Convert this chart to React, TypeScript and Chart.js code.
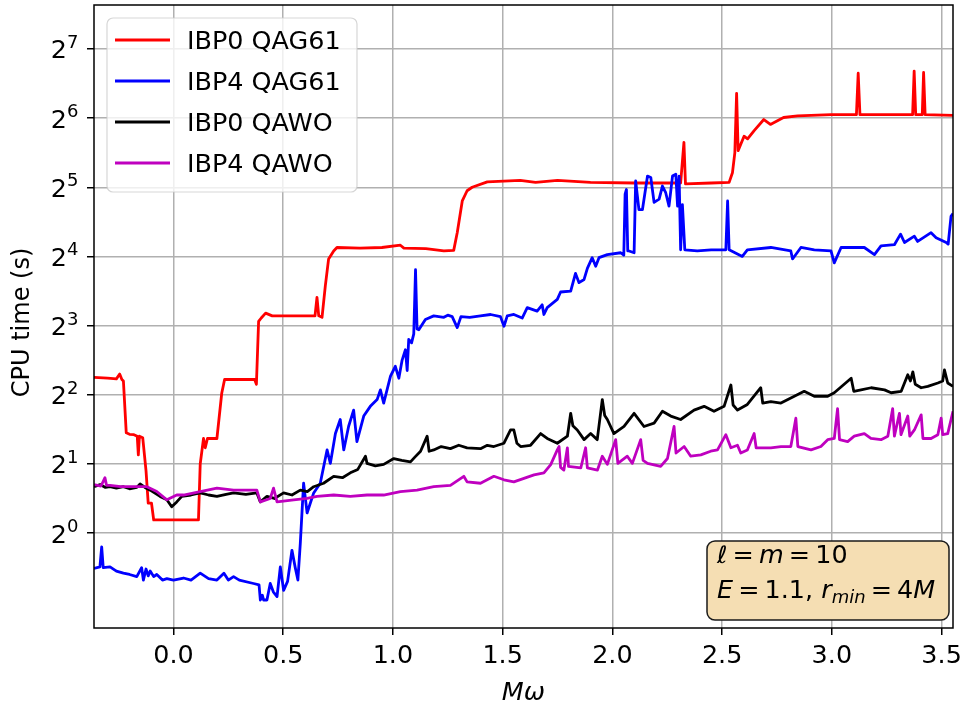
import React, { useEffect, useRef } from 'react';
import { Chart, registerables } from 'chart.js';

Chart.register(...registerables);

// ---------------- data ----------------
const xTickValues = [0, 0.5, 1, 1.5, 2, 2.5, 3, 3.5];
const xTickLabels = ['0.0', '0.5', '1.0', '1.5', '2.0', '2.5', '3.0', '3.5'];
const yTickValues = [1, 2, 4, 8, 16, 32, 64, 128];
const yTickExps = ['0', '1', '2', '3', '4', '5', '6', '7'];

const seriesNames = ['IBP0 QAG61', 'IBP4 QAG61', 'IBP0 QAWO', 'IBP4 QAWO'];
const seriesColors = ['#ff0000', '#0000ff', '#000000', '#bf00bf'];

const redX = [-0.362,-0.30,-0.26,-0.245,-0.235,-0.228,-0.215,-0.20,-0.18,-0.165,-0.16,-0.155,-0.14,-0.125,-0.115,-0.10,-0.09,0.0,0.114,0.122,0.137,0.145,0.155,0.198,0.22,0.233,0.30,0.37,0.378,0.388,0.40,0.42,0.45,0.55,0.645,0.654,0.662,0.677,0.692,0.707,0.73,0.745,0.85,0.95,1.034,1.05,1.15,1.232,1.277,1.293,1.316,1.338,1.361,1.43,1.58,1.65,1.75,1.9,2.1,2.311,2.326,2.333,2.45,2.532,2.547,2.558,2.566,2.573,2.60,2.616,2.646,2.69,2.72,2.78,2.844,2.996,3.112,3.12,3.128,3.368,3.375,3.382,3.412,3.418,3.425,3.552];
const redY = [4.76,4.72,4.69,4.92,4.66,4.59,2.73,2.69,2.68,2.64,2.19,2.64,2.60,1.87,1.35,1.35,1.14,1.14,1.14,2.00,2.58,2.35,2.58,2.58,4.06,4.66,4.66,4.66,4.44,8.34,8.63,9.06,8.82,8.82,8.82,10.6,8.82,8.69,11.9,15.6,16.9,17.5,17.4,17.5,17.9,17.4,17.3,16.9,17.0,20.3,27.9,30.9,32.0,33.8,34.3,33.6,34.3,33.6,33.4,33.4,50.2,33.1,33.4,33.6,37.0,45.3,82.1,46.2,53.4,52.0,56.5,63.1,60.1,64.4,65.4,66.3,66.3,100.4,66.3,66.3,102.6,66.3,66.3,101.1,66.3,65.8];

const blueX = [-0.362,-0.335,-0.327,-0.32,-0.289,-0.26,-0.228,-0.20,-0.167,-0.145,-0.137,-0.125,-0.115,-0.106,-0.09,-0.076,-0.05,-0.03,0.0,0.046,0.08,0.122,0.16,0.198,0.23,0.25,0.274,0.30,0.365,0.39,0.396,0.405,0.411,0.426,0.441,0.455,0.472,0.487,0.502,0.52,0.54,0.555,0.567,0.578,0.593,0.609,0.639,0.669,0.70,0.715,0.738,0.76,0.776,0.798,0.821,0.836,0.867,0.897,0.928,0.943,0.958,0.989,1.011,1.027,1.042,1.057,1.065,1.072,1.085,1.095,1.103,1.11,1.118,1.148,1.186,1.232,1.25,1.27,1.293,1.31,1.35,1.399,1.445,1.49,1.506,1.521,1.551,1.589,1.612,1.657,1.68,1.688,1.703,1.749,1.764,1.81,1.832,1.848,1.871,1.886,1.908,1.924,1.939,1.977,2.038,2.052,2.058,2.064,2.07,2.076,2.099,2.106,2.121,2.137,2.16,2.175,2.19,2.213,2.228,2.243,2.258,2.274,2.289,2.297,2.304,2.311,2.319,2.33,2.387,2.45,2.517,2.525,2.532,2.592,2.615,2.722,2.813,2.821,2.859,2.92,2.996,3.011,3.042,3.148,3.194,3.224,3.285,3.313,3.331,3.376,3.391,3.452,3.475,3.521,3.53,3.543,3.552];
const blueY = [0.702,0.712,0.871,0.707,0.712,0.683,0.669,0.660,0.646,0.707,0.624,0.697,0.651,0.683,0.646,0.660,0.624,0.633,0.624,0.637,0.624,0.669,0.633,0.624,0.669,0.624,0.646,0.624,0.603,0.595,0.511,0.536,0.511,0.511,0.603,0.555,0.529,0.712,0.563,0.616,0.841,0.707,0.624,0.901,1.647,1.223,1.495,1.647,2.30,2.01,2.71,3.12,2.30,2.91,3.43,2.50,3.23,3.56,3.81,4.20,3.68,4.82,5.32,4.72,5.66,6.28,5.10,6.96,6.73,7.36,14.0,7.73,7.67,8.51,8.82,8.69,8.88,8.75,7.84,8.75,8.69,8.82,8.94,8.75,7.95,8.82,8.94,8.63,9.58,9.25,9.85,8.94,9.58,10.4,11.2,11.3,13.5,12.3,12.7,14.2,15.8,14.5,15.8,16.3,16.6,16.2,29.9,31.3,16.9,16.9,16.6,34.1,25.6,25.6,35.8,35.3,27.5,28.4,32.4,30.3,26.5,35.8,36.5,26.5,35.8,17.1,26.9,17.1,16.9,17.1,17.1,27.9,17.1,16.0,17.1,17.5,16.9,15.6,17.5,17.1,16.9,15.0,17.5,17.5,16.3,17.8,18.0,20.0,18.4,19.6,18.6,20.3,19.3,18.4,18.1,23.9,24.6];

const blackX = [-0.362,-0.334,-0.31,-0.289,-0.26,-0.228,-0.20,-0.167,-0.152,-0.13,-0.106,-0.061,-0.03,-0.008,0.015,0.038,0.08,0.122,0.16,0.198,0.24,0.274,0.33,0.38,0.396,0.426,0.46,0.502,0.54,0.578,0.61,0.639,0.684,0.73,0.77,0.806,0.84,0.875,0.882,0.92,0.958,1.004,1.04,1.08,1.10,1.126,1.156,1.165,1.186,1.22,1.262,1.30,1.338,1.399,1.43,1.46,1.506,1.536,1.551,1.565,1.582,1.627,1.673,1.703,1.749,1.795,1.81,1.82,1.84,1.871,1.901,1.931,1.954,1.965,1.977,2.007,2.053,2.099,2.144,2.19,2.228,2.266,2.311,2.372,2.418,2.463,2.509,2.54,2.55,2.57,2.615,2.676,2.685,2.722,2.768,2.829,2.874,2.92,2.981,3.011,3.088,3.10,3.133,3.179,3.24,3.27,3.316,3.346,3.358,3.369,3.38,3.407,3.437,3.483,3.505,3.513,3.528,3.552];
const blackY = [1.591,1.625,1.580,1.591,1.569,1.591,1.558,1.580,1.636,1.580,1.537,1.444,1.395,1.301,1.366,1.444,1.464,1.495,1.464,1.444,1.474,1.495,1.474,1.495,1.366,1.444,1.414,1.495,1.464,1.537,1.516,1.591,1.647,1.766,1.741,1.828,1.892,2.16,2.01,1.96,1.99,2.11,2.07,2.04,2.14,2.27,2.64,2.27,2.30,2.38,2.33,2.41,2.35,2.33,2.41,2.38,2.46,2.81,2.81,2.46,2.38,2.41,2.71,2.58,2.46,2.64,3.32,2.93,2.81,2.55,2.71,2.55,3.81,3.25,3.12,2.71,2.91,3.32,2.91,3.01,3.39,3.23,3.12,3.43,3.56,3.39,3.56,4.41,3.61,3.43,3.63,4.29,3.68,3.73,3.68,3.94,4.14,3.94,3.94,4.08,4.72,4.14,4.20,4.29,4.20,4.08,4.14,4.89,4.59,5.03,4.44,4.29,4.35,4.50,4.59,5.13,4.50,4.35];

const magentaX = [-0.362,-0.33,-0.312,-0.305,-0.289,-0.24,-0.182,-0.121,-0.076,-0.03,0.015,0.046,0.122,0.198,0.274,0.38,0.396,0.441,0.456,0.472,0.548,0.609,0.654,0.73,0.806,0.882,0.958,1.034,1.11,1.186,1.262,1.323,1.338,1.399,1.46,1.506,1.551,1.597,1.643,1.688,1.719,1.749,1.757,1.764,1.779,1.795,1.80,1.856,1.878,1.886,1.932,1.954,1.977,2.015,2.025,2.068,2.091,2.129,2.14,2.16,2.22,2.251,2.281,2.29,2.327,2.357,2.403,2.448,2.479,2.517,2.54,2.57,2.585,2.615,2.646,2.655,2.722,2.768,2.813,2.836,2.845,2.905,2.95,2.981,3.011,3.026,3.035,3.072,3.102,3.148,3.178,3.224,3.255,3.277,3.285,3.308,3.315,3.346,3.355,3.376,3.407,3.415,3.452,3.483,3.498,3.505,3.528,3.552];
const magentaY = [1.625,1.602,1.741,1.613,1.613,1.591,1.591,1.591,1.516,1.395,1.464,1.464,1.516,1.569,1.537,1.537,1.366,1.414,1.569,1.366,1.395,1.414,1.444,1.464,1.444,1.464,1.464,1.516,1.537,1.591,1.613,1.766,1.670,1.647,1.766,1.705,1.670,1.729,1.790,1.828,1.986,2.30,2.38,1.93,1.88,2.35,1.95,1.92,2.35,1.92,1.88,2.16,1.99,2.55,2.01,2.16,2.01,2.55,2.07,2.01,1.95,2.11,2.91,2.23,2.38,2.16,2.19,2.27,2.30,2.68,2.35,2.41,2.23,2.30,2.71,2.35,2.35,2.38,2.38,3.16,2.38,2.30,2.38,2.55,2.58,3.48,2.55,2.50,2.64,2.71,2.58,2.55,2.64,3.48,2.64,3.32,2.68,3.23,2.64,2.81,3.27,2.58,2.58,2.68,3.16,2.68,2.71,3.39];

const X_MIN = -0.362;
const X_MAX = 3.552;
const Y_MIN = 0.386;
const Y_MAX = 198.9;

// ---------------- styling ----------------
const FONT = "'DejaVu Sans', 'Liberation Sans', sans-serif";
const FS = 24;
const SX = 1.06;
const INK = '#000000';
const LINE_W = 2.8;

function stretchedText(ctx: CanvasRenderingContext2D, s: string, x: number, y: number, font: string, align: CanvasTextAlign = 'left') {
  ctx.save();
  ctx.font = font;
  ctx.textAlign = align;
  ctx.textBaseline = 'alphabetic';
  ctx.fillStyle = INK;
  ctx.translate(x, y);
  ctx.scale(SX, 1);
  ctx.fillText(s, 0, 0);
  ctx.restore();
}

function textW(ctx: CanvasRenderingContext2D, s: string, font: string) {
  ctx.save();
  ctx.font = font;
  const w = ctx.measureText(s).width * SX;
  ctx.restore();
  return w;
}

function roundRectPath(ctx: CanvasRenderingContext2D, x: number, y: number, w: number, h: number, r: number) {
  ctx.beginPath();
  ctx.moveTo(x + r, y);
  ctx.lineTo(x + w - r, y);
  ctx.arcTo(x + w, y, x + w, y + r, r);
  ctx.lineTo(x + w, y + h - r);
  ctx.arcTo(x + w, y + h, x + w - r, y + h, r);
  ctx.lineTo(x + r, y + h);
  ctx.arcTo(x, y + h, x, y + h - r, r);
  ctx.lineTo(x, y + r);
  ctx.arcTo(x, y, x + r, y, r);
  ctx.closePath();
}

type Run = { t: string; font: string; dy: number };

function drawRuns(ctx: CanvasRenderingContext2D, runs: Run[], x: number, y: number) {
  let cx = x;
  runs.forEach((r) => {
    stretchedText(ctx, r.t, cx, y + r.dy, r.font, 'left');
    cx += textW(ctx, r.t, r.font);
  });
}

const decorPlugin = {
  id: 'decor',
  afterDraw(chart: any) {
    const ctx: CanvasRenderingContext2D = chart.ctx;
    const { left, right, top, bottom } = chart.chartArea;
    const xs = chart.scales.x;
    const ys = chart.scales.y;
    const normal = `${FS}px ${FONT}`;
    const small = `${Math.round(FS * 0.7)}px ${FONT}`;
    const italic = `italic ${FS}px ${FONT}`;
    const italicSmall = `italic ${Math.round(FS * 0.7)}px ${FONT}`;
    const th = '\u2009';

    ctx.save();
    // frame (spines)
    ctx.strokeStyle = '#000';
    ctx.lineWidth = 1.5;
    ctx.strokeRect(left, top, right - left, bottom - top);

    // x tick labels
    xTickValues.forEach((v, i) => {
      const px = xs.getPixelForValue(v);
      stretchedText(ctx, xTickLabels[i], px, bottom + 35, normal, 'center');
    });

    // y tick labels 2^n
    yTickValues.forEach((v, i) => {
      const py = ys.getPixelForValue(v);
      const wBase = textW(ctx, '2', normal);
      const wExp = textW(ctx, yTickExps[i], small);
      const xr = left - 15.5;
      const x0 = xr - wBase - wExp;
      stretchedText(ctx, '2', x0, py + 9.5, normal, 'left');
      stretchedText(ctx, yTickExps[i], x0 + wBase, py - 1, small, 'left');
    });

    // axis titles
    stretchedText(ctx, 'M\u03c9', (left + right) / 2, 700, italic, 'center');
    ctx.save();
    ctx.translate(28.5, (top + bottom) / 2 + 6);
    ctx.scale(SX, 1);
    ctx.rotate(-Math.PI / 2);
    ctx.font = normal;
    ctx.fillStyle = INK;
    ctx.textAlign = 'center';
    ctx.textBaseline = 'alphabetic';
    ctx.fillText('CPU time (s)', 0, 0);
    ctx.restore();

    // legend
    const lx = left + 13;
    const ly = top + 13;
    const lw = 250;
    const lh = 174;
    roundRectPath(ctx, lx, ly, lw, lh, 6);
    ctx.fillStyle = 'rgba(255,255,255,0.8)';
    ctx.fill();
    ctx.strokeStyle = 'rgba(204,204,204,0.8)';
    ctx.lineWidth = 1.2;
    ctx.stroke();
    seriesNames.forEach((name, i) => {
      const ry = ly + 22 + i * 41;
      ctx.beginPath();
      ctx.moveTo(lx + 8, ry);
      ctx.lineTo(lx + 63, ry);
      ctx.strokeStyle = seriesColors[i];
      ctx.lineWidth = LINE_W;
      ctx.stroke();
      stretchedText(ctx, name, lx + 80, ry + 9, normal, 'left');
    });

    // annotation box
    const ax = right - 246;
    const ay = bottom - 87;
    roundRectPath(ctx, ax, ay, 242, 79, 8);
    ctx.fillStyle = '#f5deb3';
    ctx.fill();
    ctx.strokeStyle = '#1a1a1a';
    ctx.lineWidth = 1.5;
    ctx.stroke();
    drawRuns(ctx, [
      { t: '\u2113', font: italic, dy: 0 },
      { t: th + '=' + th, font: normal, dy: 0 },
      { t: 'm', font: italic, dy: 0 },
      { t: th + '=' + th + '10', font: normal, dy: 0 },
    ], ax + 10, ay + 22);
    drawRuns(ctx, [
      { t: 'E', font: italic, dy: 0 },
      { t: th + '=' + th + '1.1, ', font: normal, dy: 0 },
      { t: 'r', font: italic, dy: 0 },
      { t: 'min', font: italicSmall, dy: 5 },
      { t: th + '=' + th + '4', font: normal, dy: 0 },
      { t: 'M', font: italic, dy: 0 },
    ], ax + 10, ay + 57);
    ctx.restore();
  },
};

function makeData(xs: number[], ys: number[]) {
  return xs.map((x, i) => ({ x, y: ys[i] }));
}

export default function App() {
  const canvasRef = useRef<HTMLCanvasElement | null>(null);

  useEffect(() => {
    const canvas = canvasRef.current;
    if (!canvas) return;
    const seriesX = [redX, blueX, blackX, magentaX];
    const seriesY = [redY, blueY, blackY, magentaY];
    const datasets = seriesNames.map((name, i) => ({
      label: name,
      data: makeData(seriesX[i], seriesY[i]),
      borderColor: seriesColors[i],
      backgroundColor: seriesColors[i],
      borderWidth: LINE_W,
      pointRadius: 0,
      pointHoverRadius: 0,
      tension: 0,
      fill: false,
      borderJoinStyle: 'round' as const,
      order: 4 - i,
    }));

    const chart = new Chart(canvas, {
      type: 'line',
      data: { datasets },
      options: {
        animation: false,
        responsive: false,
        devicePixelRatio: 1,
        layout: { padding: { left: 0, top: 5, right: 7, bottom: 0 } },
        plugins: {
          legend: { display: false },
          tooltip: { enabled: false },
          title: { display: false },
        },
        events: [],
        scales: {
          x: {
            type: 'linear',
            min: X_MIN,
            max: X_MAX,
            afterBuildTicks: (s: any) => {
              s.ticks = xTickValues.map((v) => ({ value: v }));
            },
            afterFit: (s: any) => {
              s.height = 81;
            },
            ticks: { display: false },
            grid: {
              color: '#b0b0b0',
              lineWidth: 1.5,
              tickColor: '#000',
              tickLength: 7,
              tickWidth: 1.5,
              drawTicks: true,
            },
            border: { display: false },
          },
          y: {
            type: 'logarithmic',
            min: Y_MIN,
            max: Y_MAX,
            afterBuildTicks: (s: any) => {
              s.ticks = yTickValues.map((v) => ({ value: v }));
            },
            afterFit: (s: any) => {
              s.width = 94;
            },
            ticks: { display: false },
            grid: {
              color: '#b0b0b0',
              lineWidth: 1.5,
              tickColor: '#000',
              tickLength: 7,
              tickWidth: 1.5,
              drawTicks: true,
            },
            border: { display: false },
          },
        },
      },
      plugins: [decorPlugin],
    } as any);

    return () => {
      chart.destroy();
    };
  }, []);

  return (
    <div style={{ position: 'absolute', left: 0, top: 0, width: 960, height: 709, background: '#fff' }}>
      <canvas ref={canvasRef} width={960} height={709} style={{ display: 'block' }} />
    </div>
  );
}
